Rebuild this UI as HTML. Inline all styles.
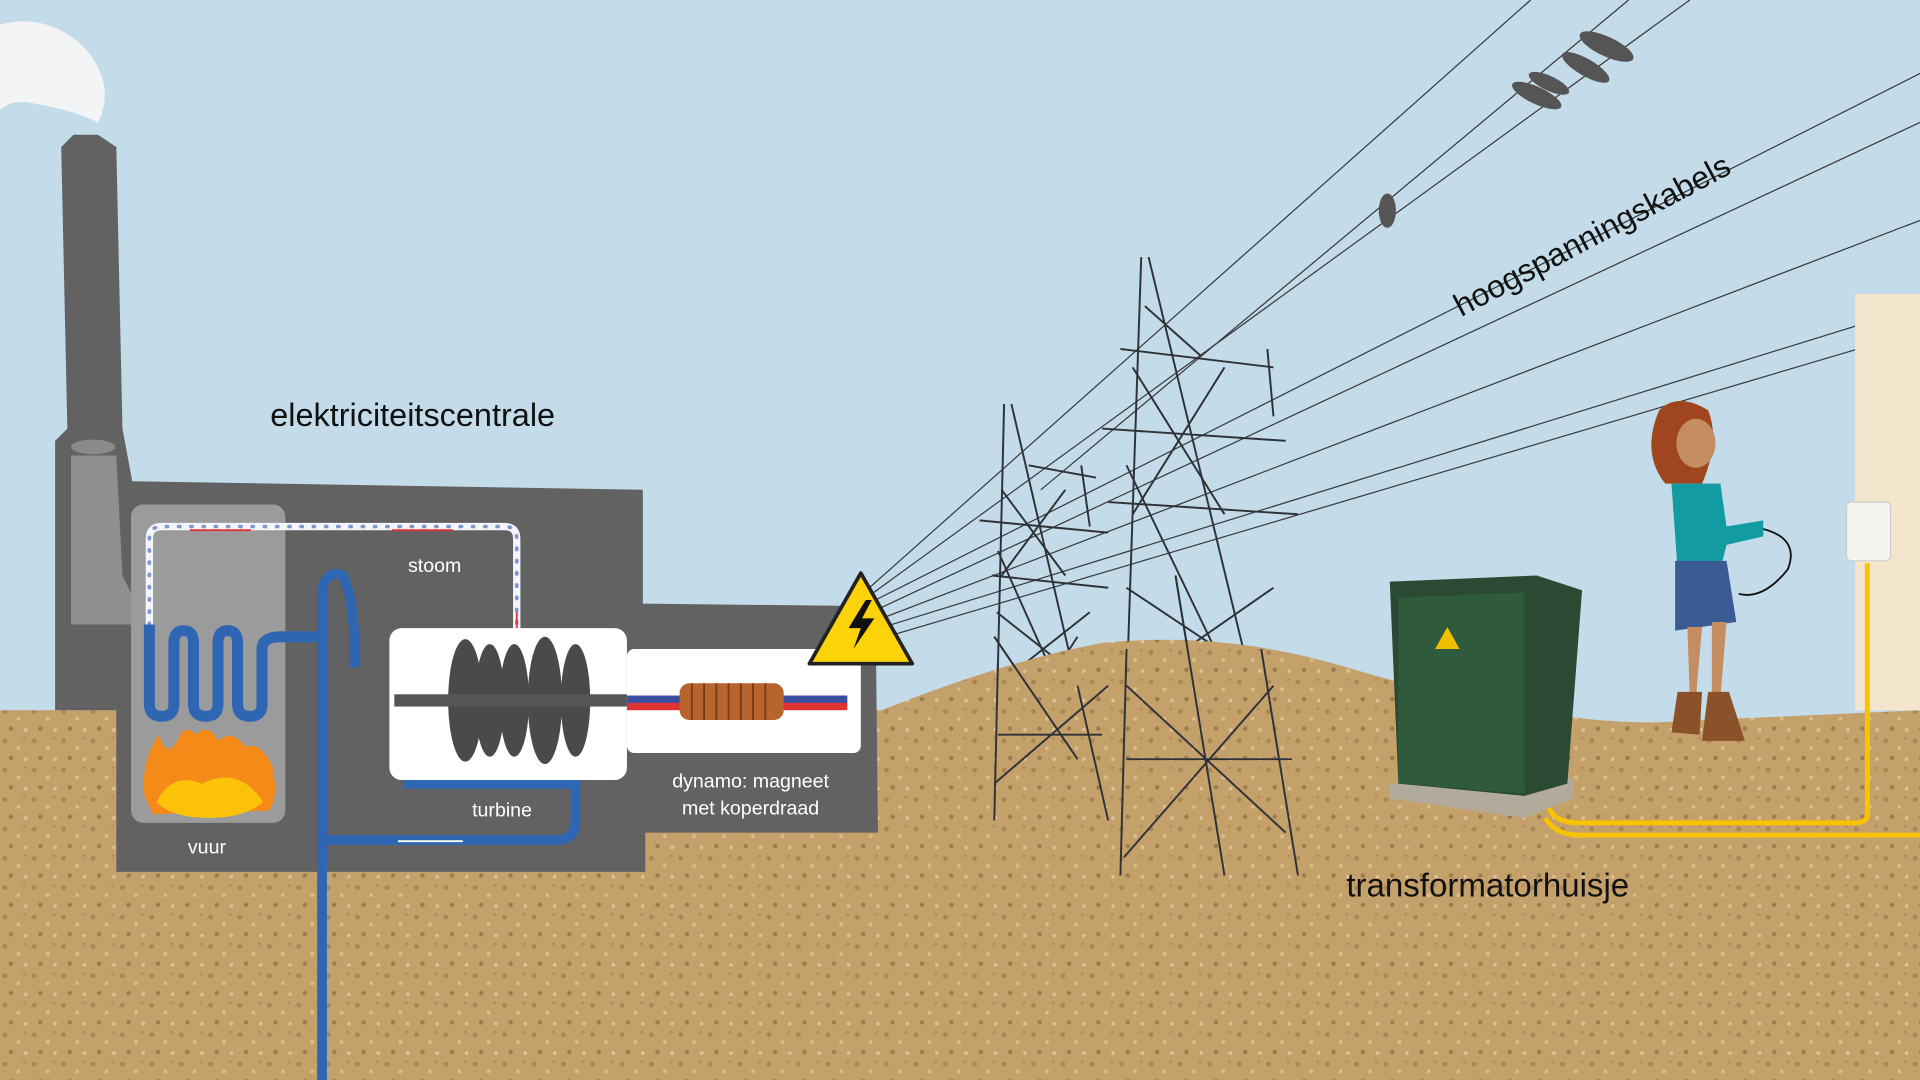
<!DOCTYPE html>
<html><head><meta charset="utf-8"><style>
html,body{margin:0;padding:0;width:1920px;height:1080px;overflow:hidden;background:#c4dcea}
svg{display:block}
text{font-family:"Liberation Sans",sans-serif}
</style></head><body>
<svg width="1920" height="1080" viewBox="0 0 1568 882" xmlns="http://www.w3.org/2000/svg">
<defs>
<pattern id="dirt" width="24" height="24" patternUnits="userSpaceOnUse">
<rect width="24" height="24" fill="#c4a06a"/>
<circle cx="4" cy="5" r="2" fill="#a98656"/><circle cx="15" cy="11" r="1.6" fill="#d9bd8a"/>
<circle cx="9" cy="19" r="1.8" fill="#9d7b4d"/><circle cx="20" cy="3" r="1.3" fill="#b58f5e"/>
<circle cx="21" cy="20" r="1.5" fill="#dcc395"/>
</pattern>
</defs>
<rect width="1568" height="882" fill="#c4dcea"/>
<!-- smoke -->
<path d="M0 20 Q40 10 70 40 Q95 70 80 100 Q60 90 30 85 Q10 80 0 90Z" fill="#f2f4f5"/>
<!-- power lines -->
<g stroke="#3a3a3a" stroke-width="1" fill="none">
<line x1="710" y1="480" x2="1250" y2="0"/>
<line x1="712" y1="485" x2="1380" y2="0"/>
<line x1="715" y1="490" x2="1568" y2="60"/>
<line x1="718" y1="497" x2="1568" y2="100"/>
<line x1="720" y1="505" x2="1568" y2="180"/>
<line x1="722" y1="512" x2="1568" y2="250"/>
<line x1="724" y1="520" x2="1568" y2="270"/>
<line x1="850" y1="400" x2="1330" y2="0"/>
</g>
<!-- pylons -->
<g stroke="#2f3338" stroke-width="1.6" fill="none">
<path d="M820 330 L812 670 M826 330 L905 670 M815 450 L900 640 M905 560 L812 640 M840 380 L895 390 M800 425 L905 435 M810 470 L905 480"/>
<path d="M812 520 L880 620 M880 520 L815 620 M815 600 L900 600 M883 380 L890 430 M814 500 L890 560 M890 500 L814 560 M818 400 L870 470 M870 400 L818 470"/>
<path d="M932 210 L915 715 M938 210 L1060 715 M920 380 L1050 650 M1040 560 L918 700 M915 285 L1040 300 M900 350 L1050 360 M905 410 L1060 420 M1035 285 L1040 340"/>
<path d="M920 480 L1040 560 M1040 480 L925 560 M920 620 L1055 620 M935 250 L980 290 M960 470 L1000 715 M925 300 L1000 420 M1000 300 L925 420 M920 560 L1050 680 M1040 600 L930 700"/>
</g>
<!-- birds -->
<g fill="#555"><ellipse cx="1133" cy="172" rx="7" ry="14"/><ellipse cx="1255" cy="78" rx="22" ry="7" transform="rotate(25 1255 78)"/><ellipse cx="1265" cy="68" rx="18" ry="6" transform="rotate(25 1265 68)"/><ellipse cx="1295" cy="55" rx="22" ry="7" transform="rotate(30 1295 55)"/><ellipse cx="1312" cy="38" rx="24" ry="8" transform="rotate(25 1312 38)"/></g>
<!-- ground -->
<path d="M0 580 L720 580 Q820 540 900 525 Q1000 515 1100 545 Q1250 590 1350 590 L1568 580 L1568 882 L0 882Z" fill="url(#dirt)"/>
<!-- redraw pylon lower parts over ground -->
<g stroke="#2f3338" stroke-width="1.6" fill="none">
<path d="M815 540 L812 670 M880 560 L905 670 M812 640 L905 560 M815 600 L900 600 M812 520 L880 620"/>
<path d="M920 530 L915 715 M1030 530 L1060 715 M920 620 L1055 620 M918 700 L1040 560 M960 470 L1000 715 M920 560 L1050 680"/>
</g>
<!-- building -->
<path d="M45 580 L45 360 L55 350 L50 120 L60 110 L80 110 L95 120 L100 350 L108 393 L525 400 L525 493 L715 495 L717 680 L527 680 L527 712 L95 712 L95 580Z" fill="#636262"/>
<ellipse cx="76" cy="365" rx="18" ry="6" fill="#8a8a8a"/>
<path d="M58 372 L95 372 L100 470 L120 510 L58 510Z" fill="#8f8f8f"/>
<rect x="107" y="412" width="126" height="260" rx="10" fill="#9b9b9b"/>
<!-- steam pipe -->
<path d="M122 520 L122 440 Q122 430 132 430 L412 430 Q422 430 422 440 L422 515" stroke="#f3f5fa" stroke-width="6" fill="none"/>
<path d="M122 520 L122 440 Q122 430 132 430 L412 430 Q422 430 422 440 L422 515" stroke="#7f97d0" stroke-width="3" stroke-dasharray="1 9" stroke-linecap="round" fill="none"/>
<path d="M155 433 L205 433 M320 433 L370 433 M422 500 L422 530" stroke="#d33" stroke-width="1.5"/>
<!-- coil -->
<path d="M122 510 L122 575 Q122 585 132 585 Q142 585 142 575 L142 525 Q142 515 150 515 Q158 515 158 525 L158 575 Q158 585 168 585 Q178 585 178 575 L178 525 Q178 515 186 515 Q194 515 194 525 L194 575 Q194 585 204 585 Q214 585 214 575 L214 530 Q214 520 230 520 L262 520" stroke="#2f66b3" stroke-width="9" fill="none"/>
<!-- fire -->
<path d="M118 650 Q115 620 130 600 Q135 620 145 605 Q150 590 160 600 Q170 590 178 605 Q190 595 200 610 Q212 605 222 625 Q228 650 220 662 L125 665Z" fill="#f58a18"/>
<path d="M128 655 Q140 630 165 640 Q195 625 215 655 Q200 668 170 668 Q140 668 128 655Z" fill="#fcc20a"/>
<!-- water pipe -->
<path d="M263 882 L263 480 Q268 465 280 470 Q290 490 290 545" stroke="#2f66b3" stroke-width="8" fill="none"/>
<path d="M263 686 L455 686 Q470 686 470 670 L470 640 L330 640" stroke="#2f66b3" stroke-width="8" fill="none"/>
<path d="M325 687 L378 687" stroke="#fff" stroke-width="1.5"/>
<!-- turbine box -->
<rect x="318" y="513" width="194" height="124" rx="10" fill="#fff"/>
<g fill="#4a4a4a"><ellipse cx="380" cy="572" rx="14" ry="50"/><ellipse cx="400" cy="572" rx="12" ry="46"/><ellipse cx="420" cy="572" rx="12" ry="46"/><ellipse cx="445" cy="572" rx="14" ry="52"/><ellipse cx="470" cy="572" rx="12" ry="46"/></g>
<rect x="322" y="567" width="190" height="10" fill="#555"/>
<!-- dynamo box -->
<rect x="512" y="530" width="191" height="85" rx="6" fill="#fff"/>
<rect x="512" y="568" width="180" height="8" fill="#3b4fa0"/><rect x="512" y="574" width="180" height="6" fill="#d33"/>
<rect x="555" y="558" width="85" height="30" rx="8" fill="#b8642e"/>
<g stroke="#7a3b15" stroke-width="1.5"><path d="M565 558v30M575 558v30M585 558v30M595 558v30M605 558v30M615 558v30M625 558v30"/></g>
<!-- warning sign -->
<path d="M703 468 L745 542 L661 542Z" fill="#fcd20a" stroke="#222" stroke-width="3" stroke-linejoin="round"/>
<path d="M707 490 L693 513 L703 513 L697 530 L714 505 L704 505 L712 490Z" fill="#111"/>
<!-- transformer -->
<path d="M1135 640 L1285 635 L1285 652 L1245 668 L1135 652Z" fill="#b2aa9a"/>
<path d="M1135 475 L1255 470 L1292 482 L1280 640 L1245 650 L1142 640Z" fill="#2a4a33"/>
<path d="M1142 488 L1245 484 L1245 648 L1142 640Z" fill="#2f5a3b"/>
<path d="M1172 530 L1182 512 L1192 530Z" fill="#f0c000"/>
<!-- wall -->
<rect x="1515" y="240" width="53" height="340" fill="#f3e6cc"/>
<rect x="1508" y="410" width="36" height="48" rx="4" fill="#f5f5f0" stroke="#ccc"/>
<path d="M1525 460 L1525 665 Q1525 672 1515 672 L1290 672 Q1270 672 1265 660 M1568 682 L1290 682 Q1270 682 1262 668" stroke="#f8c400" stroke-width="4" fill="none"/>
<!-- girl -->
<path d="M1355 335 Q1370 320 1395 335 Q1405 360 1390 395 L1360 395 Q1340 370 1355 335Z" fill="#a0461e"/>
<ellipse cx="1385" cy="362" rx="16" ry="20" fill="#c58d62"/>
<path d="M1365 395 L1405 395 L1410 430 L1440 425 L1440 438 L1410 445 L1405 465 L1370 465Z" fill="#139ba2"/>
<path d="M1368 458 L1410 458 L1418 508 L1368 515Z" fill="#3a5b94"/>
<path d="M1378 512 L1390 512 L1385 570 L1380 570Z M1398 508 L1410 508 L1405 570 L1398 570Z" fill="#c58d62"/>
<path d="M1370 565 L1390 565 L1388 600 L1365 598Z M1395 565 L1412 565 L1425 605 L1390 605Z" fill="#8a5228"/>
<path d="M1440 432 Q1470 440 1460 465 Q1440 490 1420 485" stroke="#111" stroke-width="1.5" fill="none"/>
<!-- labels -->
<text x="337" y="348" font-size="26.5" fill="#111" text-anchor="middle">elektriciteitscentrale</text>
<text x="1215" y="732" font-size="27" fill="#111" text-anchor="middle">transformatorhuisje</text>
<text x="1300" y="201" font-size="26" fill="#111" text-anchor="middle" transform="rotate(-28 1300 192)">hoogspanningskabels</text>
<g fill="#fff" font-size="16" text-anchor="middle">
<text x="355" y="467">stoom</text><text x="410" y="667">turbine</text><text x="169" y="697">vuur</text>
<text x="613" y="643">dynamo: magneet</text><text x="613" y="665">met koperdraad</text>
</g>
</svg>
</body></html>
